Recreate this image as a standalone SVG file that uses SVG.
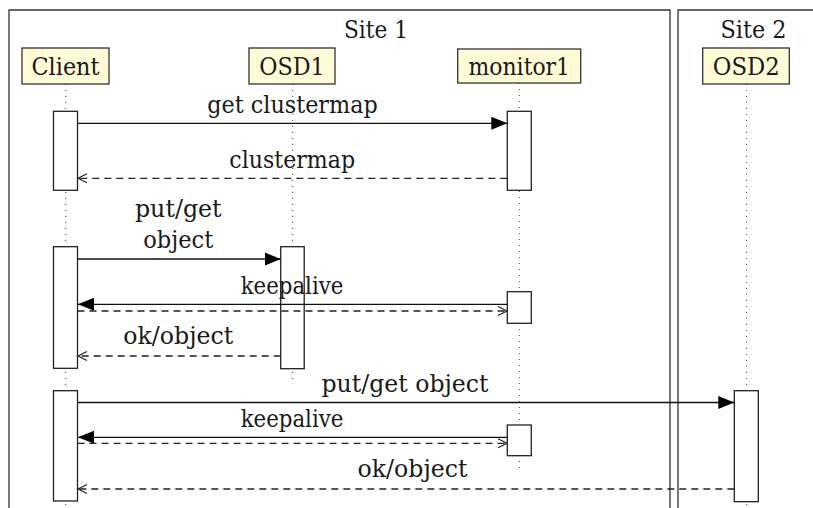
<svg xmlns="http://www.w3.org/2000/svg" width="813" height="508" viewBox="0 0 813 508">
<style>
text{font-size:24px;fill:#1a1a1a;text-anchor:middle}
.frame{fill:none;stroke:#333;stroke-width:1.3}
.head{fill:#fffbd6;stroke:#333;stroke-width:1.3}
.life{stroke:#444;stroke-width:1;stroke-dasharray:1 5;fill:none}
.act{fill:#fff;stroke:#222;stroke-width:1.3}
.msg{stroke:#111;stroke-width:1.3;fill:none}
.ret{stroke:#222;stroke-width:1.3;fill:none;stroke-dasharray:7 5}
</style>
<defs>
<marker id="fill" markerWidth="17" markerHeight="14" refX="16" refY="7" orient="auto" markerUnits="userSpaceOnUse">
<path d="M0,0.5 L16,7 L0,13.5 Z" fill="#000"/>
</marker>
<marker id="open" markerWidth="12" markerHeight="12" refX="10" refY="6" orient="auto" markerUnits="userSpaceOnUse">
<path d="M1,1.5 L10,6 L1,10.5" fill="none" stroke="#222" stroke-width="1.2"/>
</marker>
</defs>
<rect width="813" height="508" fill="#fff"/>
<g font-family="DejaVu Serif, serif">
<g id="frames">
<path class="frame" d="M9,520 V10 H670 V520"/>
<text x="376" y="37.5" textLength="64" lengthAdjust="spacingAndGlyphs">Site 1</text>
<path class="frame" d="M678,520 V10 H830"/>
<text x="753.5" y="37.5" textLength="66" lengthAdjust="spacingAndGlyphs">Site 2</text>
</g>
<g id="client">
<line class="life" x1="65.7" y1="84" x2="65.7" y2="508"/>
<rect class="head" x="22" y="48" width="87" height="36"/>
<text x="65.5" y="75" textLength="68" lengthAdjust="spacingAndGlyphs">Client</text>
</g>
<g id="osd1">
<line class="life" x1="292.7" y1="84" x2="292.7" y2="380"/>
<rect class="head" x="249" y="48" width="86" height="36"/>
<text x="292" y="75" textLength="65.5" lengthAdjust="spacingAndGlyphs">OSD1</text>
</g>
<g id="monitor1">
<line class="life" x1="519.3" y1="83" x2="519.3" y2="469"/>
<rect class="head" x="457.7" y="49" width="123" height="34"/>
<text x="519.3" y="75" textLength="101.5" lengthAdjust="spacingAndGlyphs">monitor1</text>
</g>
<g id="osd2">
<line class="life" x1="746.7" y1="84" x2="746.7" y2="508"/>
<rect class="head" x="702.7" y="48" width="86.6" height="36"/>
<text x="746.3" y="75" textLength="67" lengthAdjust="spacingAndGlyphs">OSD2</text>
</g>
<g id="activations">
<rect class="act" x="53.5" y="111.3" width="24" height="79"/>
<rect class="act" x="507.3" y="111.3" width="24" height="79"/>
<rect class="act" x="53.5" y="246.7" width="24" height="121.6"/>
<rect class="act" x="280.7" y="246.7" width="23.5" height="122"/>
<rect class="act" x="507.3" y="291.7" width="24" height="31.6"/>
<rect class="act" x="53.5" y="390.7" width="24" height="110.3"/>
<rect class="act" x="734.3" y="390.7" width="24" height="111"/>
<rect class="act" x="507.3" y="425" width="24" height="30.7"/>
</g>
<g id="connectors">
<line class="msg" x1="77.5" y1="123.3" x2="507.3" y2="123.3" marker-end="url(#fill)"/>
<text x="292.5" y="113.3" textLength="170.4" lengthAdjust="spacingAndGlyphs">get clustermap</text>
<line class="ret" x1="507.3" y1="178.3" x2="78" y2="178.3" marker-end="url(#open)"/>
<text x="292.2" y="168.3" textLength="125.7" lengthAdjust="spacingAndGlyphs">clustermap</text>
<line class="msg" x1="77.5" y1="259" x2="280.7" y2="259" marker-end="url(#fill)"/>
<text x="178.3" y="216.7" textLength="86.7" lengthAdjust="spacingAndGlyphs">put/get</text>
<text x="178.3" y="248.3" textLength="70" lengthAdjust="spacingAndGlyphs">object</text>
<line class="msg" x1="507.3" y1="304.3" x2="78" y2="304.3" marker-end="url(#fill)"/>
<line class="ret" x1="77.5" y1="311" x2="507" y2="311" marker-end="url(#open)"/>
<text x="292" y="294" textLength="102.7" lengthAdjust="spacingAndGlyphs">keepalive</text>
<line class="ret" x1="280.7" y1="356" x2="78" y2="356" marker-end="url(#open)"/>
<text x="178.3" y="344.3" textLength="110" lengthAdjust="spacingAndGlyphs">ok/object</text>
<line class="msg" x1="77.5" y1="402.5" x2="734.3" y2="402.5" marker-end="url(#fill)"/>
<text x="405" y="391.7" textLength="167" lengthAdjust="spacingAndGlyphs">put/get object</text>
<line class="msg" x1="507.3" y1="437.3" x2="78" y2="437.3" marker-end="url(#fill)"/>
<line class="ret" x1="77.5" y1="443.3" x2="507" y2="443.3" marker-end="url(#open)"/>
<text x="292" y="426.7" textLength="102.7" lengthAdjust="spacingAndGlyphs">keepalive</text>
<line class="ret" x1="734.3" y1="489" x2="78" y2="489" marker-end="url(#open)"/>
<text x="412.5" y="476.7" textLength="110" lengthAdjust="spacingAndGlyphs">ok/object</text>
</g>
</g>
</svg>
